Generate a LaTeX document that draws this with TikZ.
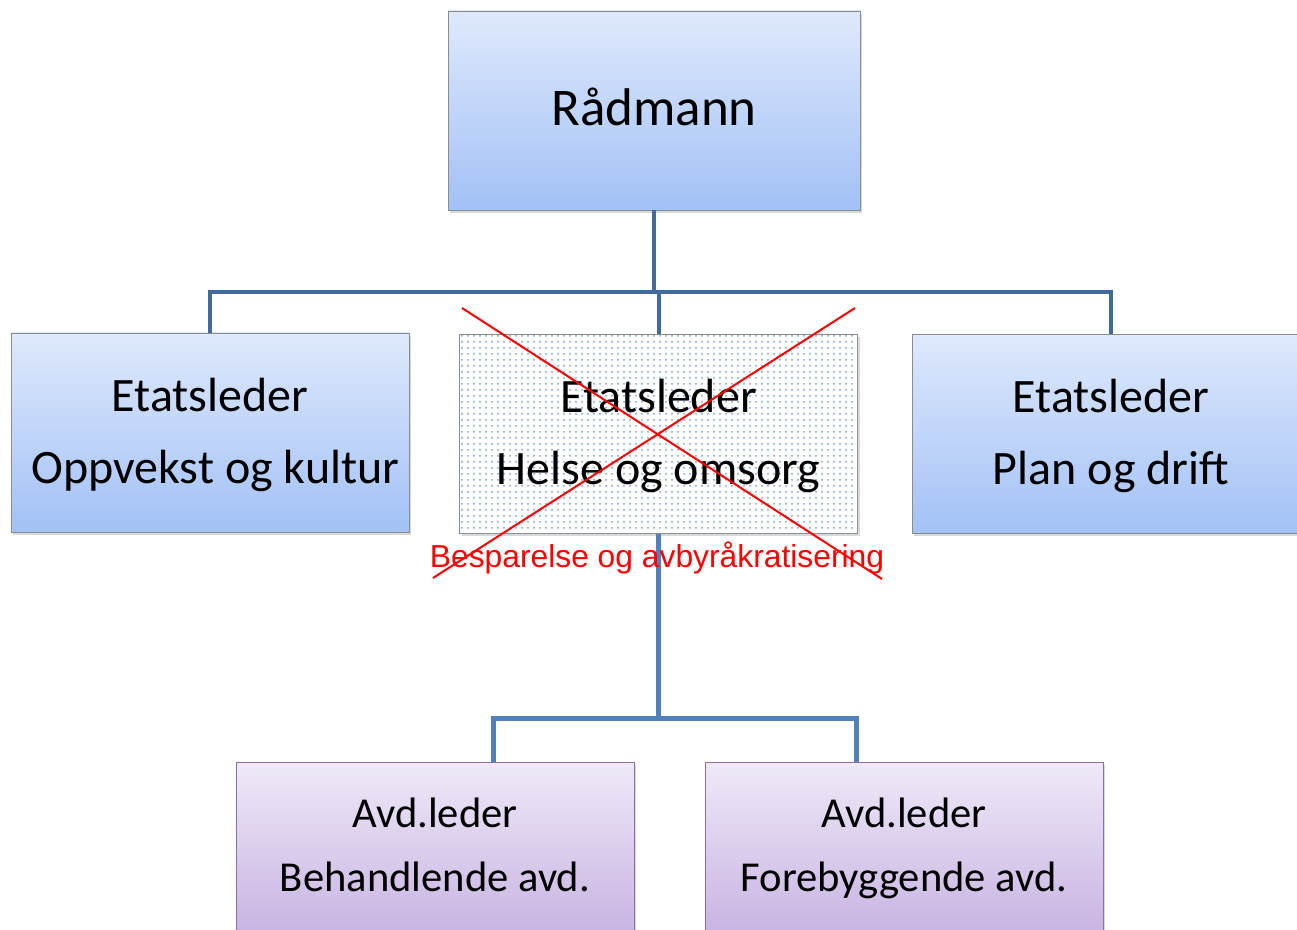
\documentclass[tikz,border=0pt]{standalone}
\usepackage{fontspec}
\setmainfont{Carlito}
\newfontfamily\arialfont{Liberation Sans}
\usetikzlibrary{shadows,patterns}
\definecolor{blaatopp}{RGB}{223,233,252}
\definecolor{blaabunn}{RGB}{162,193,246}
\definecolor{lillatopp}{RGB}{239,233,248}
\definecolor{lillabunn}{RGB}{200,180,226}
\definecolor{kantgraa}{RGB}{140,140,140}
\definecolor{kantlilla}{RGB}{140,110,172}
\definecolor{linjeblaa}{RGB}{66,106,156}
\definecolor{linjeblaa2}{RGB}{80,129,189}
\definecolor{prikkblaa}{RGB}{120,160,215}
\begin{document}
\begin{tikzpicture}[x=0.5pt,y=-0.5pt,
  boks/.style={minimum width=199pt, minimum height=99.5pt, inner sep=0pt, align=center,
    drop shadow={opacity=0.3, shadow xshift=1pt, shadow yshift=-1.5pt}},
  etat/.style={boks, draw=kantgraa, top color=blaatopp, bottom color=blaabunn,
    font=\fontsize{24}{36}\selectfont, text depth=1.9pt},
  krysset/.style={boks, draw=kantgraa, fill=white, postaction={pattern=dots, pattern color=prikkblaa},
    font=\fontsize{24}{36}\selectfont, text depth=1.9pt},
  avd/.style={boks, minimum height=85pt, draw=kantlilla, top color=lillatopp, bottom color=lillabunn,
    font=\fontsize{21.3}{32}\selectfont, text depth=2pt},
  link/.style={draw=linjeblaa, line width=2pt},
  link2/.style={draw=linjeblaa2, line width=2.5pt},
  kryss/.style={draw=red, line width=1pt}]
\useasboundingbox (0,0) rectangle (1297,930);
\clip (0,0) rectangle (1297,930);
%\draw[step=50,gray,very thin] (0,0) grid (1297,930); %background grid

% boksene
\node[etat, minimum width=206pt, font=\fontsize{26.5}{32}\selectfont, text depth=4pt] (rad) at (654,110.5) {Rådmann};
\node[etat] (oppv) at (210,432.5) {Etatsleder\\\hspace*{5.4pt}Oppvekst og kultur};
\node[krysset] (helse) at (658.5,434) {Etatsleder\\Helse og omsorg};
\node[etat] (plan) at (1111,434) {Etatsleder\\Plan og drift};
\node[avd] (beh) at (435,847) {Avd.leder\\Behandlende avd.};
\node[avd] (fore) at (904,847) {Avd.leder\\Forebyggende avd.};

% linjer
\coordinate (toppbar) at (654,292);
\draw[link] (rad.south) -- (toppbar);
\draw[link] (oppv.north) |- (toppbar) -| (plan.north);
\draw[link] (helse.north) -- (helse.north |- toppbar);
\coordinate (gaffel) at (658.5,718);
\coordinate (behtopp) at (493,762);
\coordinate (foretopp) at (856,762);
\draw[link2] (helse.south) -- (gaffel);
\draw[link2] (behtopp) |- (gaffel) -| (foretopp);

% krysset over
\draw[kryss] (462,308) -- (882,579);
\draw[kryss] (855,308) -- (433,578);
\node[text=red, font=\arialfont\fontsize{15.9}{19}\selectfont] (spar) at (657,558) {Besparelse og avbyråkratisering};
\end{tikzpicture}
\end{document}
